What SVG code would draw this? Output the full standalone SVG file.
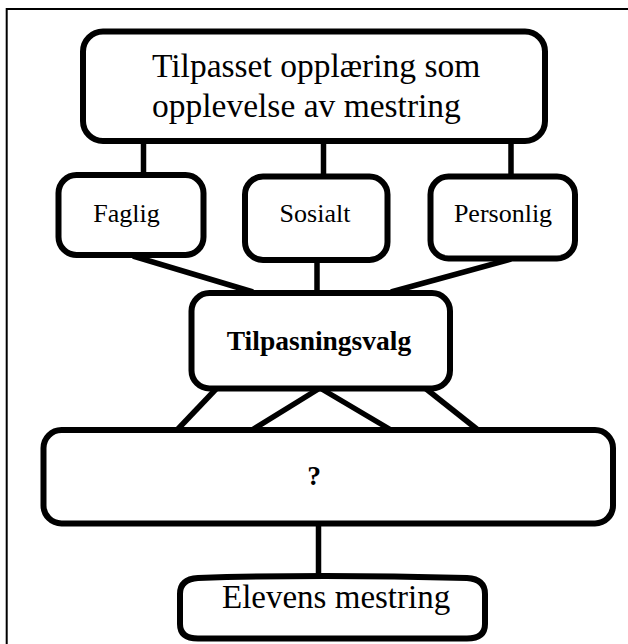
<svg xmlns="http://www.w3.org/2000/svg" width="628" height="644" viewBox="0 0 628 644">
  <style>
    .box { fill: #ffffff; stroke: #000000; stroke-width: 6; }
    .link { stroke: #000000; stroke-width: 5.5; fill: none; stroke-linecap: butt; }
    .frame { stroke: #000000; stroke-width: 2; fill: none; }
    text { font-family: "Liberation Serif", "Times New Roman", serif; fill: #000000; }
    .big { font-size: 33.5px; }
    .mid { font-size: 26px; }
    .bold { font-size: 27.5px; font-weight: bold; }
  </style>

  <rect x="0" y="0" width="628" height="644" fill="#ffffff"/>

  <!-- frame: top and left rules -->
  <path class="frame" d="M6.7,644 V9 H628"/>

  <!-- connectors -->
  <g id="connectors">
    <line class="link" x1="143.5" y1="141" x2="143.5" y2="175"/>
    <line class="link" x1="323.5" y1="141" x2="323.5" y2="176.5"/>
    <line class="link" x1="511" y1="141" x2="511" y2="176.5"/>

    <line class="link" x1="133" y1="256" x2="253" y2="292"/>
    <line class="link" x1="317" y1="260" x2="317" y2="293"/>
    <line class="link" x1="511" y1="259" x2="391" y2="292"/>

    <line class="link" x1="217" y1="388" x2="177" y2="430"/>
    <line class="link" x1="320" y1="388" x2="252" y2="430"/>
    <line class="link" x1="320" y1="388" x2="391" y2="430"/>
    <line class="link" x1="425" y1="388" x2="478" y2="430"/>

    <line class="link" x1="318.5" y1="523" x2="318.5" y2="578"/>
  </g>

  <g id="node-top">
    <rect class="box" x="83" y="31.5" width="462" height="109.5" rx="20" ry="20"/>
    <text class="big" x="152" y="77">Tilpasset opplæring som</text>
    <text class="big" x="152" y="117">opplevelse av mestring</text>
  </g>

  <g id="node-faglig">
    <rect class="box" x="58.5" y="175" width="145" height="80" rx="18" ry="18"/>
    <text class="mid" x="126.5" y="222" text-anchor="middle">Faglig</text>
  </g>

  <g id="node-sosialt">
    <rect class="box" x="245" y="176.5" width="142.5" height="83.5" rx="18" ry="18"/>
    <text class="mid" x="315" y="222" text-anchor="middle">Sosialt</text>
  </g>

  <g id="node-personlig">
    <rect class="box" x="430.5" y="176.5" width="144.5" height="82" rx="18" ry="18"/>
    <text class="mid" x="503" y="222" text-anchor="middle">Personlig</text>
  </g>

  <g id="node-tilpasningsvalg">
    <rect class="box" x="191.5" y="293" width="258.5" height="95.5" rx="18" ry="18"/>
    <text class="bold" x="319" y="350" text-anchor="middle">Tilpasningsvalg</text>
  </g>

  <g id="node-unknown">
    <rect class="box" x="43.5" y="430" width="569.5" height="93.5" rx="18" ry="18"/>
    <text class="bold" x="314" y="485" text-anchor="middle">?</text>
  </g>

  <g id="node-mestring">
    <path class="box" d="M198,578 Q318,574 467,578 Q485,579 485,594 V624 Q485,638.5 467,638.5 H198 Q180,638.5 180,624 V594 Q180,579 198,578 Z"/>
    <text class="big" x="222" y="608" style="font-size:33px">Elevens mestring</text>
  </g>
</svg>
